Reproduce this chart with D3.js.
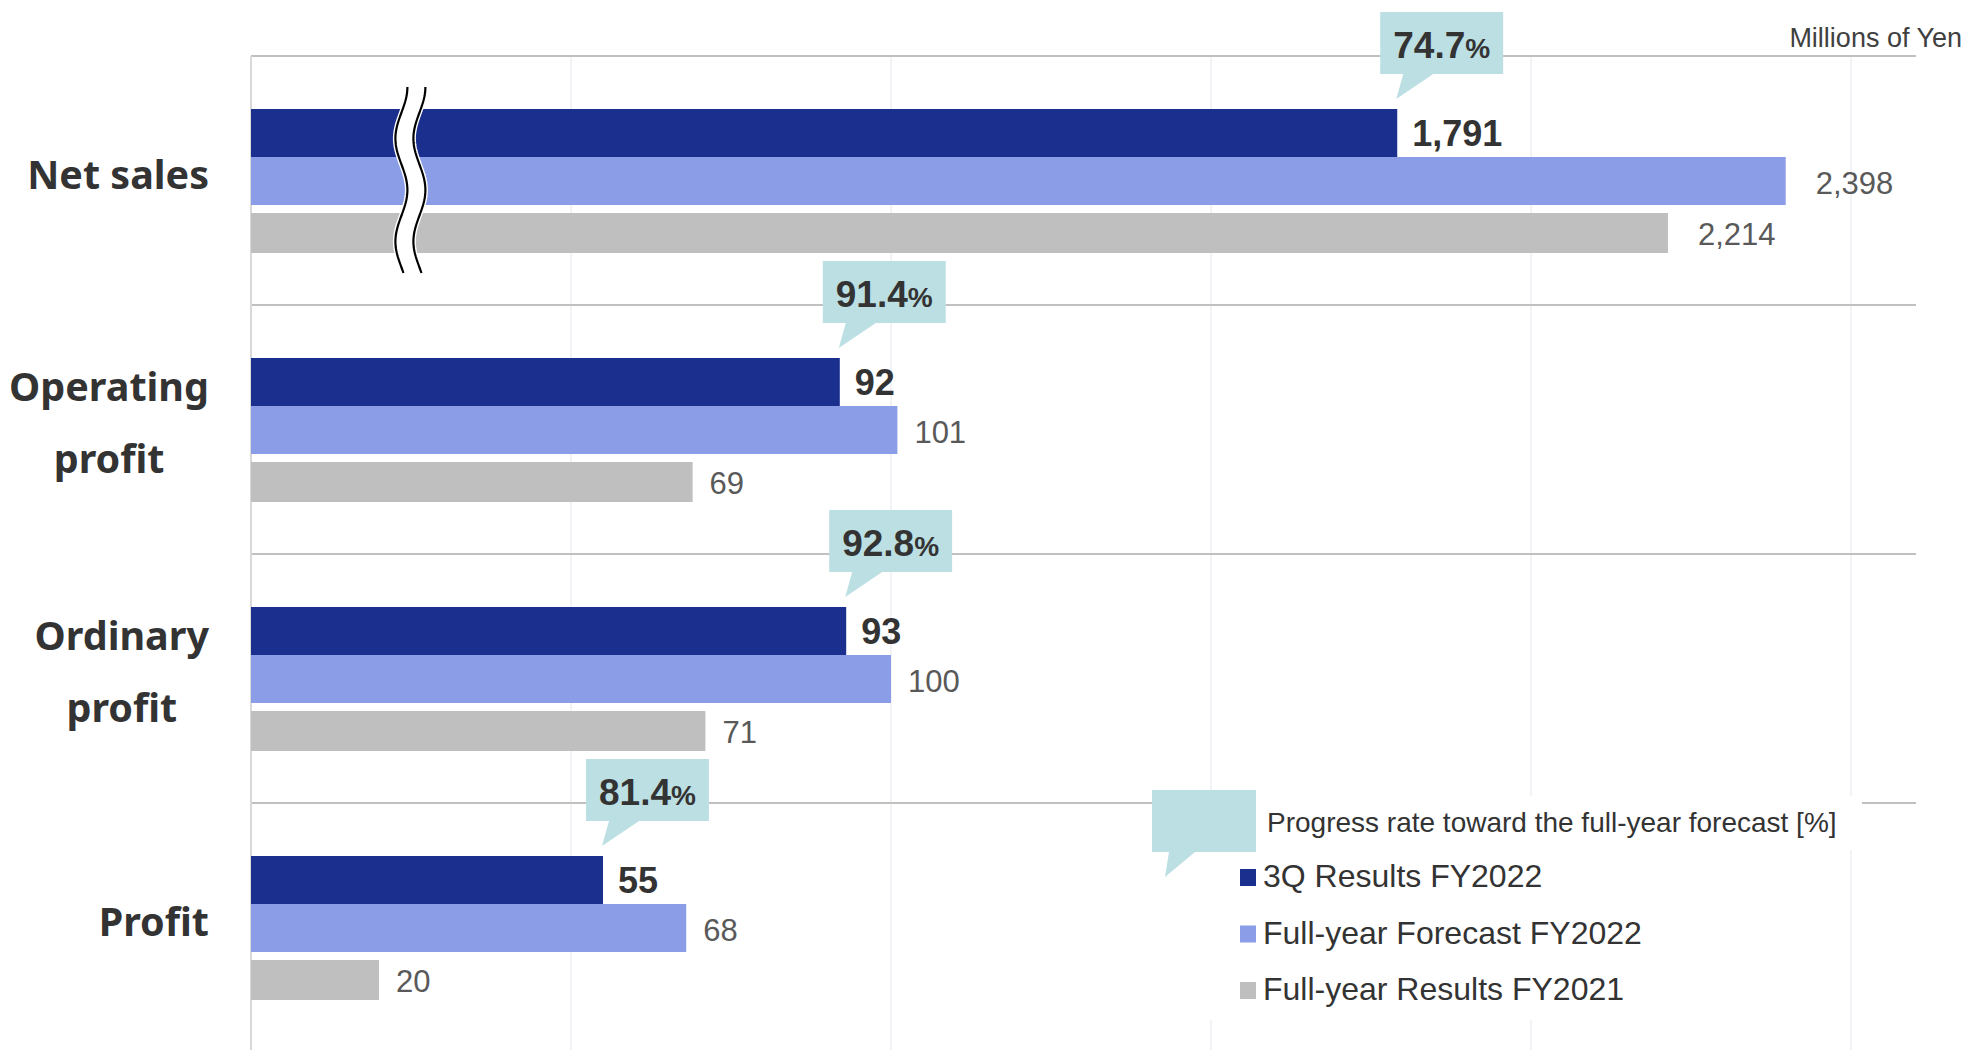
<!DOCTYPE html>
<meta charset="utf-8">
<head>
<script src="https://cdn.jsdelivr.net/npm/d3@7"></script>
<style>
    body { margin: 0; background: #fff; }
    svg { display: block; font-family: "Liberation Sans", Arial, sans-serif; }
    .cat { font-family: "Noto Sans", sans-serif; font-weight: bold; font-size: 39.5px; fill: #333; }
    .val-main { font-weight: bold; font-size: 36px; fill: #333; }
    .val-sub { font-size: 31px; fill: #595959; }
    .rate { font-weight: bold; font-size: 37px; fill: #333; }
    .rate tspan.pct { font-size: 28px; }
    .legend text { font-size: 32px; fill: #333; }
</style>
</head>
<body>
<svg width="1966" height="1050"></svg>
<script>

// data
var categories = ["Net sales", "Operating profit", "Ordinary profit", "Profit"];
var categoryLines = [["Net sales"], ["Operating", "profit"], ["Ordinary", "profit"], ["Profit"]];
var results3Q = [1791, 92, 93, 55];
var forecast2022 = [2398, 101, 100, 68];
var results2021 = [2214, 69, 71, 20];
var progressRate = [74.7, 91.4, 92.8, 81.4];
var seriesNames = ["3Q Results FY2022", "Full-year Forecast FY2022", "Full-year Results FY2021"];
var gridTicks = [50, 100, 150, 200, 250];

var colors = ["#1b2f8f", "#8c9de8", "#bfbfbf"];
var calloutColor = "#bcdfe3";

var svg = d3.select("svg");

var plotLeft = 251, plotRight = 1915, plotTop = 56, plotBottom = 1052;

// net sales is drawn on a 10x scale (broken axis)
var x = d3.scaleLinear().domain([0, 260]).range([plotLeft, plotRight]);
var xNet = d3.scaleLinear().domain([0, 2600]).range([plotLeft, plotRight]);
var y = d3.scaleBand().domain(categories).range([plotTop, plotBottom]);

// bar slots inside one band: [offset, height]
var slots = [[53, 48], [101, 48], [157, 40]];

var rows = categories.map(function(c, i) {
    return {
        cat: c,
        lines: categoryLines[i],
        scale: i === 0 ? xNet : x,
        vals: [results3Q[i], forecast2022[i], results2021[i]],
        rate: progressRate[i]
    };
});

// vertical grid
svg.append("g")
    .selectAll("line")
    .data(gridTicks)
    .enter().append("line")
    .attr("x1", function(d) { return x(d); })
    .attr("x2", function(d) { return x(d); })
    .attr("y1", plotTop)
    .attr("y2", 1050)
    .attr("stroke", "#eeeef5")
    .attr("stroke-width", 1.5);

// band separators
svg.append("g")
    .selectAll("line")
    .data(categories)
    .enter().append("line")
    .attr("x1", plotLeft)
    .attr("x2", plotRight + 1)
    .attr("y1", function(d) { return y(d); })
    .attr("y2", function(d) { return y(d); })
    .attr("stroke", "#c0c0c0")
    .attr("stroke-width", 2);

svg.append("line")
    .attr("x1", plotLeft).attr("x2", plotLeft)
    .attr("y1", plotTop).attr("y2", 1050)
    .attr("stroke", "#d9d9d9")
    .attr("stroke-width", 2);

// bars
var bars = [];
rows.forEach(function(r) {
    r.vals.forEach(function(v, s) {
        bars.push({row: r, s: s, v: v});
    });
});

svg.append("g")
    .selectAll("rect")
    .data(bars)
    .enter().append("rect")
    .attr("x", plotLeft)
    .attr("y", function(d) { return y(d.row.cat) + slots[d.s][0]; })
    .attr("width", function(d) { return d.row.scale(d.v) - plotLeft; })
    .attr("height", function(d) { return slots[d.s][1]; })
    .attr("fill", function(d) { return colors[d.s]; });

// break mark on net sales
var bx = x(23.5), by0 = y("Net sales") + 31, by1 = y("Net sales") + 217;
function wave(cx, dir) {
    var pts = d3.range(by0, by1 + 0.1, 2).map(function(yy) {
        return [cx + 6 * Math.cos(2 * Math.PI * (yy - by0) / 103), yy];
    });
    return dir < 0 ? pts.reverse() : pts;
}
var line = d3.line();
svg.append("path")
    .attr("d", line(wave(bx, 1).concat(wave(bx + 18, -1))) + "Z")
    .attr("fill", "#fff");
[bx, bx + 18].forEach(function(cx) {
    svg.append("path").attr("d", line(wave(cx, 1)))
        .attr("fill", "none").attr("stroke", "#fff").attr("stroke-width", 5);
    svg.append("path").attr("d", line(wave(cx, 1)))
        .attr("fill", "none").attr("stroke", "#000").attr("stroke-width", 2.2);
});

// value labels
svg.append("g")
    .selectAll("text")
    .data(bars)
    .enter().append("text")
    .attr("class", function(d) { return d.s === 0 ? "val-main" : "val-sub"; })
    .attr("x", function(d) {
        var gap = d.s === 0 ? 15 : (d.row.cat === "Net sales" ? 30 : 17);
        return d.row.scale(d.v) + gap;
    })
    .attr("y", function(d) { return y(d.row.cat) + slots[d.s][0] + slots[d.s][1] / 2 + (d.s === 2 ? 12 : 13); })
    .text(function(d) { return d3.format(",")(d.v); });

// progress rate callouts
rows.forEach(function(r) {
    var ex = r.scale(r.vals[0]), ty = y(r.cat) + slots[0][0];
    var g = svg.append("g");
    var path = g.append("path").attr("fill", calloutColor);
    var t = g.append("text").attr("class", "rate");
    t.append("tspan").text(r.rate.toFixed(1));
    t.append("tspan").attr("class", "pct").text("%");
    var tw = t.node().getComputedTextLength();
    var x0 = ex - 17, y0 = ty - 97, w = tw + 26, h = 62;
    t.attr("x", x0 + 13).attr("y", y0 + 46);
    path.attr("d", "M" + x0 + "," + y0 + "H" + (x0 + w) + "V" + (y0 + h) +
        "H" + (ex + 36) + "L" + (ex - 1) + "," + (ty - 10) + "L" + (ex + 6) + "," + (y0 + h) +
        "H" + x0 + "Z");
});

// legend
var lg = svg.append("g").attr("class", "legend");
lg.append("rect").attr("x", 1152).attr("y", 796).attr("width", 710).attr("height", 54).attr("fill", "#fff");
lg.append("rect").attr("x", 1200).attr("y", 850).attr("width", 645).attr("height", 170).attr("fill", "#fff");
lg.append("path")
    .attr("d", "M1152,790H1256V852H1195L1165,877L1169,852H1152Z")
    .attr("fill", calloutColor);
lg.append("text")
    .attr("x", 1267).attr("y", 832)
    .style("font-size", "28px")
    .text("Progress rate toward the full-year forecast [%]");

var items = lg.selectAll(".item")
    .data(seriesNames)
    .enter().append("g")
    .attr("transform", function(d, i) { return "translate(1240," + (887 + i * 56.5) + ")"; });
items.append("rect")
    .attr("x", 0).attr("y", -18).attr("width", 16).attr("height", 17)
    .attr("fill", function(d, i) { return colors[i]; });
items.append("text")
    .attr("x", 23)
    .text(function(d) { return d; });

// unit
svg.append("text")
    .attr("x", 1962).attr("y", 47)
    .attr("text-anchor", "end")
    .attr("font-size", "27px")
    .attr("fill", "#404040")
    .text("Millions of Yen");

// category labels, lines centred, block right-aligned
rows.forEach(function(r) {
    var g = svg.append("g");
    var c = y(r.cat) + y.bandwidth() / 2;
    var texts = r.lines.map(function(l, k) {
        var yy = r.lines.length === 1 ? c + 8 : c - 29 + k * 72;
        return g.append("text").attr("class", "cat").attr("y", yy).attr("text-anchor", "middle").text(l);
    });
    var maxw = d3.max(texts, function(t) { return t.node().getComputedTextLength(); });
    texts.forEach(function(t) { t.attr("x", 209 - maxw / 2); });
});

</script>
</body>
